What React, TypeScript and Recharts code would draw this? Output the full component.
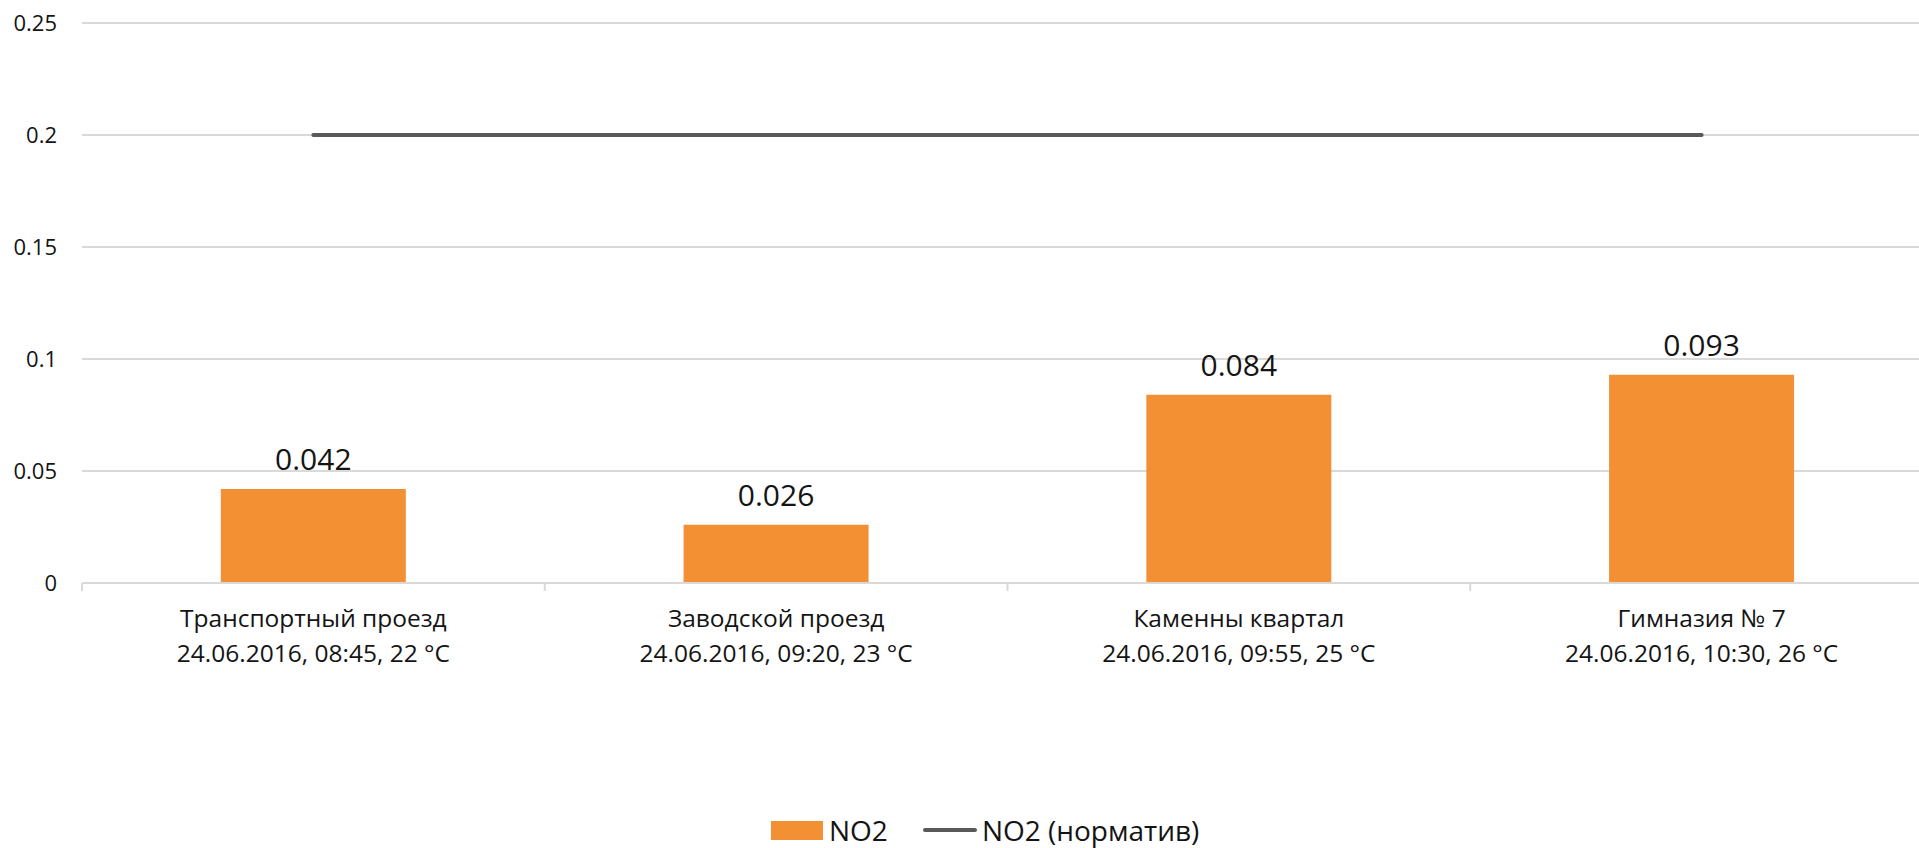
import React from "react";
import {
  ComposedChart,
  Bar,
  Line,
  XAxis,
  YAxis,
  CartesianGrid,
  Legend,
  LabelList,
} from "recharts";

const placeNames = [
  "Транспортный проезд",
  "Заводской проезд",
  "Каменны квартал",
  "Гимназия № 7",
];
const placeDetails = [
  "24.06.2016, 08:45, 22 °C",
  "24.06.2016, 09:20, 23 °C",
  "24.06.2016, 09:55, 25 °C",
  "24.06.2016, 10:30, 26 °C",
];
const no2Values = [0.042, 0.026, 0.084, 0.093];
const no2Norm = [0.2, 0.2, 0.2, 0.2];
const yTicks = [0, 0.05, 0.1, 0.15, 0.2, 0.25];

const data = placeNames.map((name, i) => ({
  name,
  detail: placeDetails[i],
  no2: no2Values[i],
  norm: no2Norm[i],
}));

const FONT = "'Open Sans', sans-serif";
const TEXT = "#141414";
const GRID = "#d9d9d9";
const ORANGE = "#F39034";
const LINE = "#595959";

const CatTick = (props: any) => {
  const { x, y, payload, index } = props;
  const i = typeof index === "number" ? index : payload?.index ?? 0;
  const off = payload && typeof payload.offset === "number" && payload.offset > 0 ? payload.offset : 231.4;
  return (
    <g>
      <line x1={x - off} x2={x - off} y1={y} y2={y + 8} stroke={GRID} strokeWidth={2} />
      {i === data.length - 1 && (
        <line x1={x + off} x2={x + off} y1={y} y2={y + 8} stroke={GRID} strokeWidth={2} />
      )}
      <text textAnchor="middle" fontSize={24.5} fill={TEXT} fontFamily={FONT}>
        <tspan x={x} y={y + 44}>
          {data[i]?.name}
        </tspan>
        <tspan x={x} y={y + 79}>
          {data[i]?.detail}
        </tspan>
      </text>
    </g>
  );
};

const LegendContent = () => (
  <div style={{ position: "relative", height: 50, width: "100%", fontFamily: FONT }}>
    <div
      style={{
        position: "absolute",
        left: 771,
        top: 18,
        height: 28,
        display: "flex",
        alignItems: "center",
        fontSize: 28,
        color: TEXT,
        whiteSpace: "nowrap",
      }}
    >
      <span style={{ display: "inline-block", width: 52, height: 19, background: ORANGE, marginRight: 6 }} />
      <span>NO2</span>
      <span
        style={{
          display: "inline-block",
          width: 54,
          height: 4,
          borderRadius: 2,
          background: LINE,
          marginLeft: 35,
          marginRight: 5,
        }}
      />
      <span>NO2 (норматив)</span>
    </div>
  </div>
);

export default function App() {
  return (
    <div
      style={{
        position: "fixed",
        left: 0,
        top: 0,
        width: 1919,
        height: 848,
        overflow: "hidden",
        background: "#fff",
        fontFamily: FONT,
      }}
    >
      <ComposedChart
        width={1950}
        height={848}
        data={data}
        margin={{ top: 23, right: 17, bottom: 0, left: 0 }}
        barCategoryGap="30%"
      >
        <CartesianGrid vertical={false} stroke={GRID} strokeWidth={2} />
        <XAxis
          dataKey="name"
          height={215}
          interval={0}
          tickSize={0}
          tickMargin={0}
          tickLine={false}
          axisLine={{ stroke: GRID, strokeWidth: 2 }}
          tick={<CatTick />}
        />
        <YAxis
          width={82}
          domain={[0, 0.25]}
          ticks={yTicks}
          interval={0}
          axisLine={false}
          tickLine={false}
          tickSize={0}
          tickMargin={25}
          tick={{ fontSize: 22, fill: TEXT, fontFamily: FONT }}
        />
        <Legend verticalAlign="bottom" height={50} content={<LegendContent />} />
        <Bar dataKey="no2" name="NO2" fill={ORANGE} isAnimationActive={false}>
          <LabelList
            dataKey="no2"
            position="top"
            offset={19}
            style={{ fontSize: 30, fill: TEXT, fontFamily: FONT }}
          />
        </Bar>
        <Line
          dataKey="norm"
          name="NO2 (норматив)"
          type="linear"
          stroke={LINE}
          strokeWidth={4}
          strokeLinecap="round"
          dot={false}
          activeDot={false}
          isAnimationActive={false}
        />
      </ComposedChart>
    </div>
  );
}
